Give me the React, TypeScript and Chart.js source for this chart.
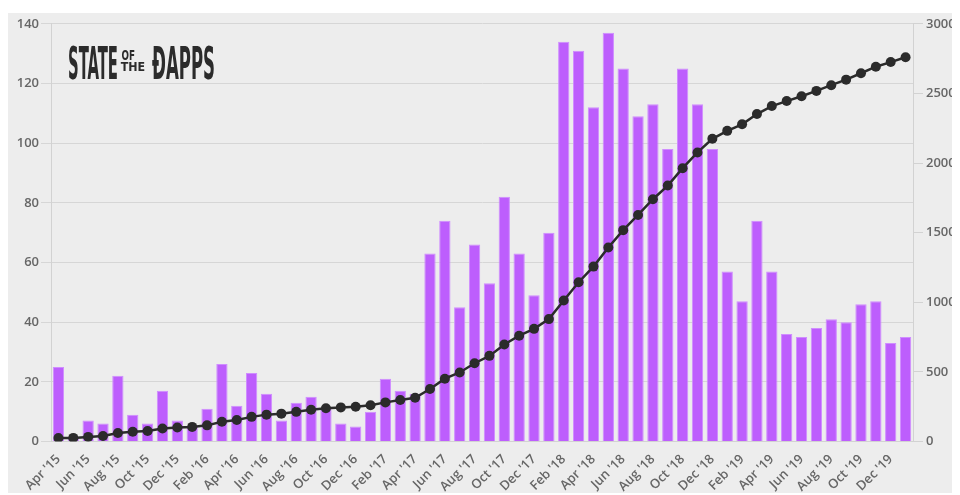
import { useEffect, useRef } from 'react';
import { Chart, registerables } from 'chart.js';

Chart.register(...registerables);

const months = [
  "Apr '15", "May '15", "Jun '15", "Jul '15", "Aug '15", "Sep '15", "Oct '15", "Nov '15", "Dec '15",
  "Jan '16", "Feb '16", "Mar '16", "Apr '16", "May '16", "Jun '16", "Jul '16", "Aug '16", "Sep '16", "Oct '16", "Nov '16", "Dec '16",
  "Jan '17", "Feb '17", "Mar '17", "Apr '17", "May '17", "Jun '17", "Jul '17", "Aug '17", "Sep '17", "Oct '17", "Nov '17", "Dec '17",
  "Jan '18", "Feb '18", "Mar '18", "Apr '18", "May '18", "Jun '18", "Jul '18", "Aug '18", "Sep '18", "Oct '18", "Nov '18", "Dec '18",
  "Jan '19", "Feb '19", "Mar '19", "Apr '19", "May '19", "Jun '19", "Jul '19", "Aug '19", "Sep '19", "Oct '19", "Nov '19", "Dec '19",
  "Jan '20",
];

const newDapps = [
  25, 1, 7, 6, 22, 9, 6, 17, 7,
  5, 11, 26, 12, 23, 16, 7, 13, 15, 11, 6, 5,
  10, 21, 17, 16, 63, 74, 45, 66, 53, 82, 63, 49,
  70, 134, 131, 112, 137, 125, 109, 113, 98, 125, 113, 98,
  57, 47, 74, 57, 36, 35, 38, 41, 40, 46, 47, 33,
  35,
];

const totalDapps = [
  25, 26, 33, 39, 61, 70, 76, 93, 100,
  105, 116, 142, 154, 177, 193, 200, 213, 228, 239, 245, 250,
  260, 281, 298, 314, 377, 451, 496, 562, 615, 697, 760, 809,
  879, 1013, 1144, 1256, 1393, 1518, 1627, 1740, 1838, 1963, 2076, 2174,
  2231, 2278, 2352, 2409, 2445, 2480, 2518, 2559, 2599, 2645, 2692, 2725,
  2760,
];

const leftAxis = { min: 0, max: 140, step: 20 };
const rightAxis = { min: 0, max: 3000, step: 500 };

export default function App() {
  const ref = useRef<HTMLCanvasElement | null>(null);

  useEffect(() => {
    if (!ref.current) return;
    const font = { family: "'Open Sans', sans-serif", size: 13, weight: 600 as any };
    const chart = new Chart(ref.current, {
      type: 'bar',
      data: {
        labels: months,
        datasets: [
          {
            type: 'line',
            label: 'Total',
            data: totalDapps,
            yAxisID: 'y1',
            borderColor: '#2b2b2b',
            backgroundColor: '#2b2b2b',
            borderWidth: 2.5,
            pointRadius: 5,
            pointBackgroundColor: '#2b2b2b',
            pointBorderColor: '#2b2b2b',
            pointBorderWidth: 0,
            tension: 0,
            order: 0,
          } as any,
          {
            type: 'bar',
            label: 'New',
            data: newDapps,
            yAxisID: 'y',
            backgroundColor: '#bd5efd',
            borderColor: '#cf8dff',
            borderWidth: 1,
            categoryPercentage: 0.8,
            barPercentage: 0.95,
            order: 1,
          } as any,
        ],
      },
      options: {
        animation: false,
        responsive: false,
        maintainAspectRatio: false,
        layout: { padding: { top: 3, left: 0, right: 0, bottom: 0 } },
        plugins: { legend: { display: false }, tooltip: { enabled: false } },
        scales: {
          x: {
            grid: { display: false },
            border: { display: true, color: '#d2d2d2' },
            ticks: {
              autoSkip: false,
              maxRotation: 45,
              minRotation: 45,
              padding: 2,
              color: '#666',
              font,
              callback: (_v: any, i: number) => (i % 2 === 0 ? months[i] : ''),
            },
            afterFit: (s: any) => { s.height = 51.5; },
          },
          y: {
            position: 'left',
            min: leftAxis.min,
            max: leftAxis.max,
            grid: { color: '#d6d6d6', lineWidth: 1, tickLength: 10 },
            border: { display: true, color: '#d2d2d2' },
            ticks: { stepSize: leftAxis.step, color: '#666', font, padding: 2, callback: (v: any) => String(v) },
            afterFit: (s: any) => { s.width = 43; },
          },
          y1: {
            position: 'right',
            min: rightAxis.min,
            max: rightAxis.max,
            grid: { drawOnChartArea: false, color: '#d2d2d2', tickLength: 10 },
            border: { display: true, color: '#d2d2d2' },
            ticks: { stepSize: rightAxis.step, color: '#666', font, padding: 3, callback: (v: any) => String(v) },
            afterFit: (s: any) => { s.width = 47; },
          },
        },
      },
    });
    return () => chart.destroy();
  }, []);

  const logoFont = "'Liberation Sans Narrow', 'DejaVu Sans Condensed', 'Roboto', sans-serif";
  return (
    <div style={{ paddingTop: 5 }}>
      <div style={{ position: 'relative', width: 952, height: 480, background: '#ededed' }}>
        <canvas ref={ref} width={952} height={480} style={{ display: 'block' }} />
        <svg
          width={220}
          height={60}
          style={{ position: 'absolute', left: 50, top: 25, pointerEvents: 'none' }}
        >
          <g fill="#2b2b2b" fontFamily={logoFont} fontWeight={700}>
            <text x={10} y={41} fontSize={44} textLength={50} lengthAdjust="spacingAndGlyphs">STATE</text>
            <text x={63.5} y={22} fontSize={13.5} fontWeight={600} textLength={13.5} lengthAdjust="spacingAndGlyphs">OF</text>
            <text x={62.7} y={32.7} fontSize={12.5} fontWeight={600} textLength={24.5} lengthAdjust="spacingAndGlyphs">THE</text>
            <text x={94} y={41} fontSize={44} textLength={63} lengthAdjust="spacingAndGlyphs">ÐAPPS</text>
          </g>
        </svg>
      </div>
    </div>
  );
}
